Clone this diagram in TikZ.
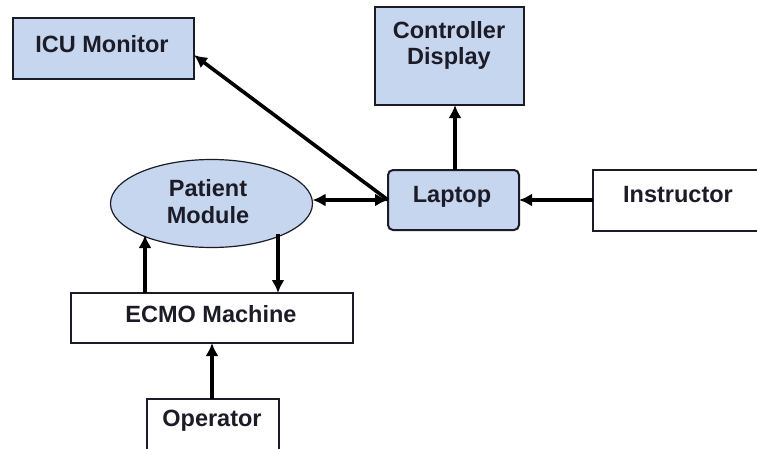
\documentclass[tikz,border=0pt]{standalone}
\usepackage{fontspec}
\setmainfont{Liberation Sans}
\usetikzlibrary{shapes.geometric,arrows.meta}
\definecolor{boxblue}{RGB}{198,214,238}
\definecolor{ink}{RGB}{28,28,40}
\begin{document}
\begin{tikzpicture}[x=1pt,y=-1pt,
  lbl/.style={font=\fontsize{23.5}{28}\selectfont\bfseries, text=ink, align=center, inner sep=0pt},
  bluebox/.style={draw=ink, line width=2pt, fill=boxblue},
  whitebox/.style={draw=ink, line width=2pt, fill=white},
  tip/.style={Latex[length=13pt,width=13pt]},
  conn/.style={line width=3.6pt, draw=black, -{Latex[length=13pt,width=13pt]}},
  both/.style={line width=3.6pt, draw=black, {Latex[length=13pt,width=13pt]}-{Latex[length=13pt,width=13pt]}}]
\useasboundingbox (0,0) rectangle (757,448);
\fill[white] (0,0) rectangle (757,448);

% boxes
\draw[bluebox] (13,18) rectangle (194,79);
\node[lbl] (icu) at (102,44) {ICU Monitor};
\coordinate (icuE) at (194,55);

\draw[bluebox] (375,7) rectangle (524,105);
\node[lbl] (ctrl1) at (449,30) {Controller};
\node[lbl] (ctrl2) at (449,58) {Display};
\coordinate (ctrlS) at (455,105);

\draw[bluebox, rounded corners=5pt] (388,170) rectangle (519,230);
\node[lbl] (lap) at (452,197) {Laptop};
\coordinate (lapW) at (388,200);
\coordinate (lapE) at (519,200);
\coordinate (lapN) at (455,170);

\draw[whitebox] (593,170) rectangle (770,231);
\node[lbl] (inst) at (678,195) {Instructor};
\coordinate (instW) at (593,200);

\node[ellipse, draw=ink, line width=1.2pt, fill=boxblue, minimum width=202pt, minimum height=88pt, inner sep=0pt] (pm) at (211.5,203.5) {};
\node[lbl] (pm1) at (208,188) {Patient};
\node[lbl] (pm2) at (208,215) {Module};
\coordinate (pmE) at (312.5,200);

\draw[whitebox] (71,293) rectangle (353,343);
\node[lbl] (ecmo) at (211,314) {ECMO Machine};

\draw[whitebox] (147,399) rectangle (279,460);
\node[lbl] (op) at (212,421) {Operator};

% connectors
\draw[conn] (lapW) -- (icuE);
\draw[both] (pmE) -- (lapW);
\draw[conn] (lapN) -- (ctrlS);
\draw[conn] (instW) -- (lapE);
\draw[conn] (145,293) -- (145,235);
\draw[conn] (278,234) -- (278,293);
\draw[conn] (212,399) -- (212,343);
\end{tikzpicture}
\end{document}
